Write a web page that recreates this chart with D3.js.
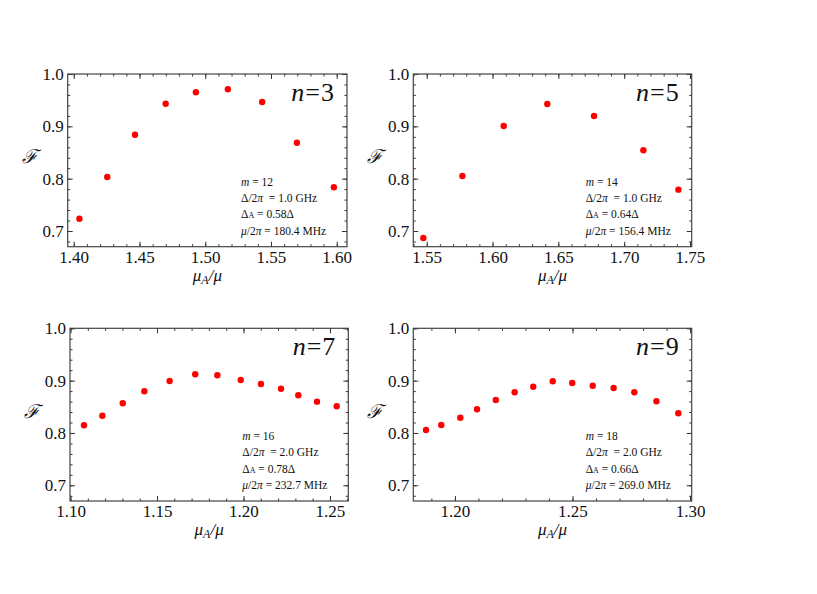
<!DOCTYPE html>
<html>
<head>
<meta charset="utf-8">
<script src="https://cdn.jsdelivr.net/npm/d3@7"></script>
<style>
  body { margin: 0; background: #fff; }
</style>
</head>
<body>
<svg width="817" height="594" font-family="Liberation Serif, Times New Roman, serif"></svg>
<script>
// panel data
var nVals = [3, 5, 7, 9];
var mVals = [12, 14, 16, 18];
var deltaGHz = ["1.0", "1.0", "2.0", "2.0"];
var deltaA = ["0.58", "0.64", "0.78", "0.66"];
var muMHz = ["180.4", "156.4", "232.7", "269.0"];

var x3 = [1.4043, 1.4255, 1.4466, 1.4699, 1.4929, 1.5172, 1.5433, 1.5697, 1.5978];
var y3 = [0.7235, 0.8032, 0.884, 0.9432, 0.965, 0.9708, 0.9465, 0.8687, 0.7835];

var x5 = [1.5474, 1.5771, 1.6085, 1.6416, 1.6771, 1.7146, 1.7412];
var y5 = [0.6866, 0.805, 0.9007, 0.9428, 0.9198, 0.8542, 0.779];

var x7 = [1.1078, 1.1184, 1.1302, 1.1427, 1.1573, 1.1721, 1.1849, 1.1984, 1.2101, 1.2217, 1.2317, 1.2425, 1.2539];
var y7 = [0.8147, 0.833, 0.8567, 0.8796, 0.8993, 0.9121, 0.9102, 0.9012, 0.8936, 0.8846, 0.872, 0.8598, 0.851];

var x9 = [1.1877, 1.1942, 1.2023, 1.2094, 1.2174, 1.2254, 1.2333, 1.2416, 1.2499, 1.2586, 1.2675, 1.2763, 1.2857, 1.295];
var y9 = [0.8057, 0.8152, 0.8292, 0.8452, 0.863, 0.8777, 0.8884, 0.8987, 0.8955, 0.8903, 0.8859, 0.8777, 0.8605, 0.8376];

var xTicks3 = [1.40, 1.45, 1.50, 1.55, 1.60];
var xTicks5 = [1.55, 1.60, 1.65, 1.70, 1.75];
var xTicks7 = [1.10, 1.15, 1.20, 1.25];
var xTicks9 = [1.20, 1.25, 1.30];
var yTicks = [0.7, 0.8, 0.9, 1.0];
var yDomain = [0.67, 1.0];

var serif = "Liberation Serif, Times New Roman, serif";
var svg = d3.select("svg");

var panels = [
  {xs: x3, ys: y3, xd: [1.3954, 1.6078], ticks: xTicks3, box: [67.7, 74, 347, 246.7]},
  {xs: x5, ys: y5, xd: [1.5398, 1.7513], ticks: xTicks5, box: [413.3, 74, 691.7, 246.7]},
  {xs: x7, ys: y7, xd: [1.0997, 1.2606], ticks: xTicks7, box: [70, 328.3, 348.3, 501]},
  {xs: x9, ys: y9, xd: [1.1823, 1.3007], ticks: xTicks9, box: [413.3, 328.3, 691.7, 501]}
];

function minorTicks(dom, step) {
  var lo = Math.ceil(dom[0] / step - 1e-6), hi = Math.floor(dom[1] / step + 1e-6);
  return d3.range(lo, hi + 1).map(function (k) { return +(k * step).toFixed(4); });
}

panels.forEach(function (p, i) {
  var b = p.box,
      w = b[2] - b[0],
      h = b[3] - b[1];
  var g = svg.append("g").attr("transform", "translate(" + b[0] + "," + b[1] + ")");

  var x = d3.scaleLinear().domain(p.xd).range([0, w]);
  var y = d3.scaleLinear().domain(yDomain).range([h, 0]);

  var xMinor = minorTicks(p.xd, 0.01),
      yMinor = minorTicks(yDomain, 0.02);

  // minor ticks, all four sides, pointing inward
  g.append("g").attr("transform", "translate(0," + h + ")")
    .call(d3.axisBottom(x).tickValues(xMinor).tickSize(-2.5).tickFormat(""));
  g.append("g")
    .call(d3.axisTop(x).tickValues(xMinor).tickSize(-2.5).tickFormat(""));
  g.append("g")
    .call(d3.axisLeft(y).tickValues(yMinor).tickSize(-2.5).tickFormat(""));
  g.append("g").attr("transform", "translate(" + w + ",0)")
    .call(d3.axisRight(y).tickValues(yMinor).tickSize(-2.5).tickFormat(""));

  // major ticks
  g.append("g").attr("transform", "translate(0," + h + ")")
    .call(d3.axisBottom(x).tickValues(p.ticks).tickSize(-5).tickPadding(4).tickFormat(d3.format(".2f")));
  g.append("g")
    .call(d3.axisTop(x).tickValues(p.ticks).tickSize(-5).tickFormat(""));
  g.append("g")
    .call(d3.axisLeft(y).tickValues(yTicks).tickSize(-5).tickPadding(4).tickFormat(d3.format(".1f")));
  g.append("g").attr("transform", "translate(" + w + ",0)")
    .call(d3.axisRight(y).tickValues(yTicks).tickSize(-5).tickFormat(""));

  g.selectAll(".domain").remove();
  g.selectAll("g").attr("font-family", serif).attr("font-size", 17);
  g.selectAll(".tick line").attr("stroke", "#333");
  g.selectAll(".tick text").attr("fill", "#111");

  g.append("rect")
    .attr("width", w).attr("height", h)
    .attr("fill", "none").attr("stroke", "#444").attr("stroke-width", 1.2);

  // points
  g.selectAll("circle")
    .data(p.xs.map(function (v, k) { return [v, p.ys[k]]; }))
    .enter().append("circle")
    .attr("cx", function (d) { return x(d[0]); })
    .attr("cy", function (d) { return y(d[1]); })
    .attr("r", 3.2)
    .attr("fill", "#ff0000");

  // n label
  var nt = g.append("text")
    .attr("x", w - 13).attr("y", 26.5)
    .attr("text-anchor", "end")
    .attr("font-family", serif).attr("font-size", 26).attr("fill", "#111");
  nt.append("tspan").attr("font-style", "italic").text("n");
  nt.append("tspan").attr("dx", 1).text("=");
  nt.append("tspan").attr("dx", 1).text(nVals[i]);

  // axis titles
  var xt = g.append("text")
    .attr("x", w / 2).attr("y", h + 34)
    .attr("text-anchor", "middle")
    .attr("font-family", serif).attr("font-size", 17)
    .attr("font-style", "italic").attr("fill", "#111");
  xt.append("tspan").text("\u03bc");
  xt.append("tspan").attr("dy", 3).attr("font-size", 12).text("A");
  xt.append("tspan").attr("dy", -3).text("/\u03bc");

  g.append("text")
    .attr("x", -38).attr("y", h / 2 + 3)
    .attr("text-anchor", "middle")
    .attr("font-family", "DejaVu Serif, serif").attr("font-size", 19)
    .attr("font-style", "italic").attr("fill", "#111")
    .text("\u2131");

  // parameter block
  var ax = w - 106,
      ay = 112,
      lh = 16.2;
  var ann = g.append("g").attr("font-size", 11.5).attr("font-family", serif).attr("fill", "#111");

  var t1 = ann.append("text").attr("x", ax).attr("y", ay);
  t1.append("tspan").attr("font-style", "italic").text("m");
  t1.append("tspan").text(" = " + mVals[i]);

  var t2 = ann.append("text").attr("x", ax).attr("y", ay + lh);
  t2.append("tspan").text("\u0394/2");
  t2.append("tspan").attr("font-style", "italic").text("\u03c0");
  t2.append("tspan").text("\u00a0 = " + deltaGHz[i] + " GHz");

  var t3 = ann.append("text").attr("x", ax).attr("y", ay + 2 * lh);
  t3.append("tspan").text("\u0394");
  t3.append("tspan").attr("font-size", 8).text("A");
  t3.append("tspan").text(" = " + deltaA[i] + "\u0394");

  var t4 = ann.append("text").attr("x", ax).attr("y", ay + 3 * lh);
  t4.append("tspan").attr("font-style", "italic").text("\u03bc");
  t4.append("tspan").text("/2");
  t4.append("tspan").attr("font-style", "italic").text("\u03c0");
  t4.append("tspan").text(" = " + muMHz[i] + " MHz");
});
</script>
</body>
</html>
